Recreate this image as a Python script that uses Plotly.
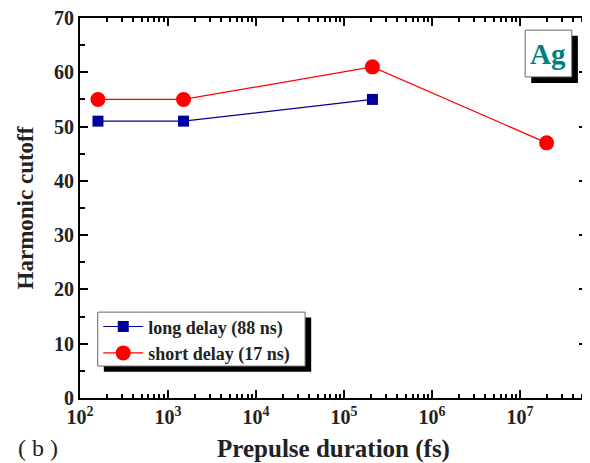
import plotly.graph_objects as go

# prepulse duration (fs) vs harmonic cutoff order
long_x = [160, 1500, 2.1e5]
long_y = [51, 51, 55]
short_x = [160, 1500, 2.1e5, 2.0e7]
short_y = [55, 55, 61, 47]

xtick_vals = [1e2, 1e3, 1e4, 1e5, 1e6, 1e7]
xtick_text = ["10<sup>2</sup>", "10<sup>3</sup>", "10<sup>4</sup>",
              "10<sup>5</sup>", "10<sup>6</sup>", "10<sup>7</sup>"]

serif = "Liberation Serif, Times New Roman, serif"
ink = "#222222"

fig = go.Figure()
fig.add_trace(go.Scatter(x=long_x, y=long_y, mode="lines+markers",
                         name="long delay (88 ns)",
                         line=dict(color="#00009c", width=1.2),
                         marker=dict(symbol="square", size=11, color="#00009c")))
fig.add_trace(go.Scatter(x=short_x, y=short_y, mode="lines+markers",
                         name="short delay (17 ns)",
                         line=dict(color="#ff0000", width=1.2),
                         marker=dict(symbol="circle", size=15, color="#ff0000")))

axis_common = dict(showline=True, linecolor="black", linewidth=2, mirror="ticks",
                   ticks="inside", ticklen=8, tickwidth=2, tickcolor="black",
                   showgrid=False, zeroline=False, automargin=False,
                   ticklabeloverflow="allow",
                   tickfont=dict(family=serif, size=20, color=ink, weight="bold"))

fig.update_xaxes(type="log", range=[2, 7.76], tickvals=xtick_vals, ticktext=xtick_text,
                 minor=dict(ticks="inside", ticklen=4, tickwidth=1.5, tickcolor="black",
                            dtick="D1", showgrid=False),
                 title=dict(text="Prepulse duration (fs)",
                            font=dict(family=serif, size=25, color=ink, weight="bold"),
                            standoff=12),
                 **axis_common)
fig.update_yaxes(range=[0, 70], dtick=10,
                 minor=dict(ticks="inside", ticklen=5, tickwidth=1.5, tickcolor="black",
                            dtick=5, showgrid=False),
                 title=dict(text="Harmonic cutoff",
                            font=dict(family=serif, size=23, color=ink, weight="bold"),
                            standoff=14),
                 **axis_common)

# legend shadow + box
fig.add_shape(type="rect", xref="paper", yref="paper",
              x0=0.047, x1=0.456, y0=0.069, y1=0.212,
              fillcolor="black", line=dict(width=0))
fig.add_shape(type="rect", xref="paper", yref="paper",
              x0=0.035, x1=0.444, y0=0.084, y1=0.226,
              fillcolor="white", line=dict(color="#666", width=1))
# Ag label shadow + box
fig.add_shape(type="rect", xref="paper", yref="paper",
              x0=0.890, x1=0.982, y0=0.829, y1=0.953,
              fillcolor="black", line=dict(width=0))
fig.add_shape(type="rect", xref="paper", yref="paper",
              x0=0.878, x1=0.970, y0=0.845, y1=0.968,
              fillcolor="white", line=dict(color="#666", width=1))
fig.add_annotation(xref="paper", yref="paper", x=0.924, y=0.906,
                   xanchor="center", yanchor="middle",
                   text="<b>Ag</b>", showarrow=False,
                   font=dict(family=serif, size=29, color="#008080"))
fig.add_annotation(xref="paper", yref="paper", x=-0.126, y=-0.132,
                   xanchor="left", yanchor="middle",
                   text="( b )", showarrow=False,
                   font=dict(family=serif, size=24, color=ink))

fig.update_layout(width=590, height=463, plot_bgcolor="white", paper_bgcolor="white",
                  margin=dict(l=72, r=11, t=10, b=73),
                  showlegend=True,
                  legend=dict(x=0.036, y=0.236, xanchor="left", yanchor="top",
                              bgcolor="rgba(0,0,0,0)", borderwidth=0,
                              font=dict(family=serif, size=18, color=ink, weight="bold"),
                              tracegroupgap=0, itemwidth=40))
fig.write_html("out.html")
